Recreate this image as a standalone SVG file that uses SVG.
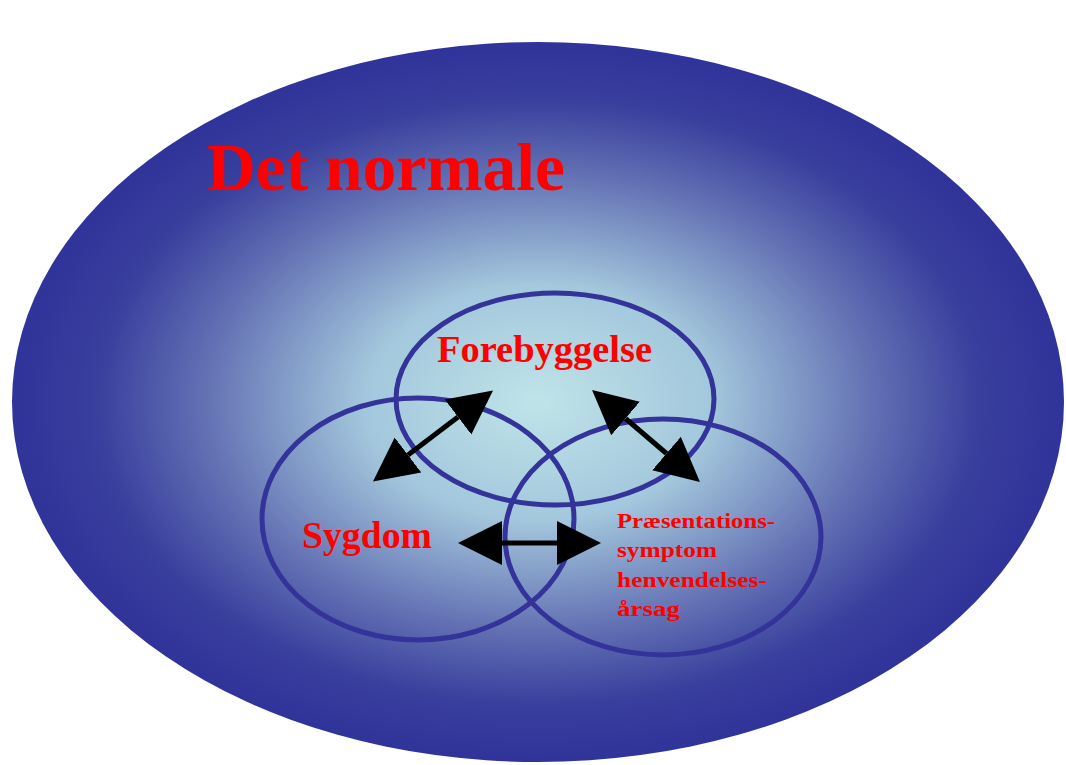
<svg xmlns="http://www.w3.org/2000/svg" width="1066" height="765" viewBox="0 0 1066 765">
<defs>
<radialGradient id="bg" cx="0.5" cy="0.5" r="0.5" fx="0.5" fy="0.5">
<stop offset="0" stop-color="#bfe4e8"/>
<stop offset="0.33" stop-color="#a3c7dc"/>
<stop offset="0.63" stop-color="#6472b4"/>
<stop offset="0.84" stop-color="#383f9d"/>
<stop offset="1" stop-color="#303399"/>
</radialGradient>
<marker id="ah" markerUnits="userSpaceOnUse" markerWidth="46" markerHeight="46" viewBox="0 -23 46 46" refX="0" refY="0" orient="auto-start-reverse">
<path d="M0,-22 L44,0 L0,22 z" fill="#000"/>
</marker>
<style>
.ring{fill:none;stroke:#333399;stroke-width:5}
.lbl{font-family:"Liberation Serif","Times New Roman",serif;font-weight:bold;fill:#ff0000}
.conn{stroke:#000;stroke-width:5;marker-start:url(#ah);marker-end:url(#ah)}
</style>
</defs>
<rect width="1066" height="765" fill="#fff"/>
<g id="det-normale">
<ellipse cx="538" cy="402" rx="526" ry="360" fill="url(#bg)"/>
<text class="lbl" x="207" y="190" font-size="68" textLength="358" lengthAdjust="spacingAndGlyphs">Det normale</text>
</g>
<g id="forebyggelse">
<ellipse class="ring" cx="555" cy="399" rx="159" ry="106"/>
<text class="lbl" x="437" y="362" font-size="38" textLength="215" lengthAdjust="spacingAndGlyphs">Forebyggelse</text>
</g>
<g id="sygdom">
<ellipse class="ring" cx="418" cy="519" rx="156" ry="121"/>
<text class="lbl" x="302" y="548" font-size="37" textLength="130" lengthAdjust="spacingAndGlyphs">Sygdom</text>
</g>
<g id="praesentation">
<ellipse class="ring" cx="663" cy="537" rx="158" ry="118"/>
<text class="lbl" font-size="22">
<tspan x="617" y="528" textLength="158" lengthAdjust="spacingAndGlyphs">Præsentations-</tspan>
<tspan x="617" y="557" textLength="100" lengthAdjust="spacingAndGlyphs">symptom</tspan>
<tspan x="617" y="587" textLength="150" lengthAdjust="spacingAndGlyphs">henvendelses-</tspan>
<tspan x="617" y="616" textLength="63" lengthAdjust="spacingAndGlyphs">årsag</tspan>
</text>
</g>
<g id="connectors">
<line class="conn" x1="408" y1="455" x2="458" y2="417"/>
<line class="conn" x1="625.5" y1="418.5" x2="666.5" y2="453.5"/>
<line class="conn" x1="502" y1="543" x2="557" y2="543"/>
</g>
</svg>
